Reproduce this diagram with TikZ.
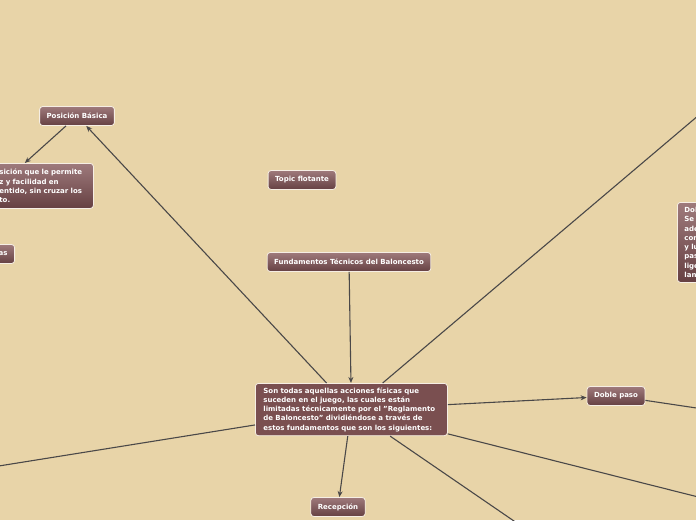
\documentclass[tikz,border=0pt]{standalone}
\usepackage{fontspec}
\setmainfont{DejaVu Sans}
\usetikzlibrary{arrows.meta}

\definecolor{paper}{RGB}{232,212,168}
\definecolor{topicfill}{RGB}{122,79,80}
\definecolor{topiclight}{RGB}{158,122,124}
\definecolor{topicdark}{RGB}{102,64,66}
\definecolor{rim}{RGB}{246,238,228}
\definecolor{wire}{RGB}{74,72,72}

\begin{document}
\begin{tikzpicture}[x=1pt, y=-1pt,
    topic/.style={draw=rim, line width=0.8pt, rounded corners=3pt, top color=topiclight, bottom color=topicdark,
      text=white, font=\fontsize{7}{9.3}\selectfont\bfseries, inner xsep=7pt, inner ysep=4pt, minimum height=19pt},
    central/.style={topic, top color=topicfill, bottom color=topicfill, align=left, text width=176pt, inner xsep=8pt},
    note/.style={topic, align=left},
    link/.style={draw=wire, line width=1.1pt},
    arrow/.style={link, -{Stealth[length=6pt, width=5pt]}}]

    % Paper and frame
    \clip (0,0) rectangle (696,520);
    \fill[paper] (0,0) rectangle (696,520);

    % Topics
    \node[central, anchor=north west] (main) at (255,383) {Son todas aquellas acciones físicas que\\suceden en el juego, las cuales están\\limitadas técnicamente por el "Reglamento\\de Baloncesto" dividiéndose a través de\\estos fundamentos que son los siguientes:};
    \node[topic] (fund) at (349,262) {Fundamentos Técnicos del Baloncesto};
    \node[topic] (floating) at (302,180) {Topic flotante};
    \node[topic] (posbas) at (77,116) {Posición Básica};
    \node[topic] (doble) at (616,396) {Doble paso};
    \node[topic] (recep) at (338,507) {Recepción};

    % Topics cut by the frame
    \node[note, anchor=north west, text width=87pt, minimum height=45pt] (posnote) at (-8,163) {sición que le permite\\z y facilidad en\\entido, sin cruzar los\\to.};
    \node[topic, anchor=east] (leftcut) at (15,254) {as};
    \node[note, anchor=north west, text width=60pt, minimum height=80pt] (doblenote) at (677,202) {Dob\\Se\\ade\\con\\y lu\\pas\\lige\\lan};

    % Ends of connectors outside the frame
    \coordinate (upright) at (745,76);
    \coordinate (farright) at (730,413);
    \coordinate (lowright) at (730,505);
    \coordinate (lowmid) at (530,532);
    \coordinate (farleft) at (-20,469);

    % Connectors
    \draw[arrow] (fund) -- (main);
    \draw[arrow] (main) -- (posbas);
    \draw[arrow] (posbas) -- ([xshift=-69pt]posnote.north east);
    \draw[arrow] (main) -- (doble);
    \draw[arrow] (main) -- (recep);
    \draw[link] (main) -- (upright);
    \draw[link] (doble) -- (farright);
    \draw[link] (main) -- (lowright);
    \draw[link] (main) -- (lowmid);
    \draw[link] (main) -- (farleft);

\end{tikzpicture}
\end{document}
